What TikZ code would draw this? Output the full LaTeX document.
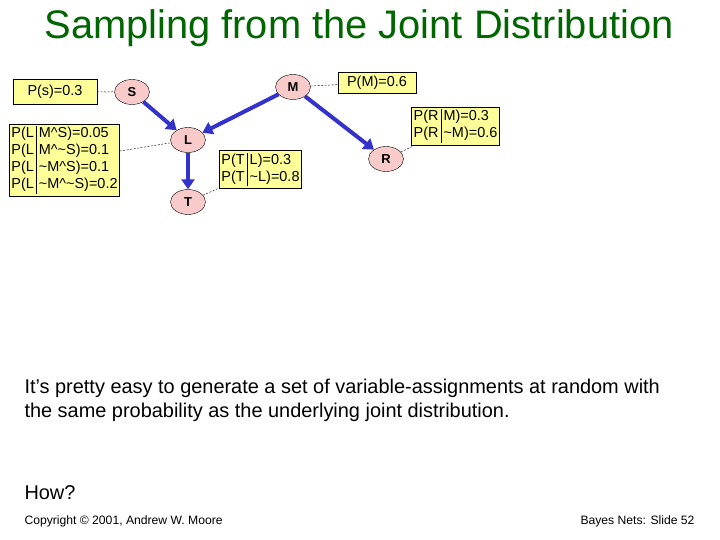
\documentclass[tikz,border=0pt]{standalone}
\usepackage{fontspec}
\setmainfont{Liberation Sans}
\usetikzlibrary{arrows.meta,shapes.geometric}
\definecolor{boxy}{HTML}{FFFF99}
\definecolor{nodep}{HTML}{F8CACA}
\definecolor{arrb}{HTML}{3333CC}
\definecolor{titleg}{HTML}{006600}
\newcommand{\tl}{\textasciitilde}
\begin{document}
\begin{tikzpicture}[x=1bp,y=-1bp,
  var/.style={ellipse,draw=black,fill=nodep,minimum width=35bp,minimum height=25bp,inner sep=0pt,font=\fontsize{13}{14}\selectfont\bfseries},
  cpt/.style={draw=black,fill=boxy,inner sep=2bp,font=\fontsize{14.5}{17}\selectfont,align=left},
  edge/.style={arrb,line width=4bp,-{Triangle[length=10bp,width=13bp]}},
  lnk/.style={black,line width=0.4bp,dash pattern=on 2bp off 1.5bp}]
\useasboundingbox[fill=white] (0,0) rectangle (720,540);
\node[titleg,font=\fontsize{40}{44}\selectfont] (title) at (359,28) {Sampling from the Joint Distribution};
\node[var] (S) at (132,92) {S};
\node[var] (M) at (293,87) {M};
\node[var] (L) at (188,140) {L};
\node[var] (T) at (188,202) {T};
\node[var] (R) at (386,159) {R};
\node[cpt,minimum width=84bp,minimum height=25bp,align=center] (ps) at (55,91.5) {P(s)=0.3};
\node[cpt,minimum width=78bp,minimum height=21bp,align=center] (pm) at (377,82.5) {P(M)=0.6};
\node[cpt] (pr) at (455.5,126) {\begin{tabular}{@{}l@{\,}|@{\,}l@{}}P(R&M)=0.3\\P(R&\tl M)=0.6\end{tabular}};
\node[cpt] (pl) at (64.5,160) {\begin{tabular}{@{}l@{\,}|@{\,}l@{}}P(L&M\^{}S)=0.05\\P(L&M\^{}\tl S)=0.1\\P(L&\tl M\^{}S)=0.1\\P(L&\tl M\^{}\tl S)=0.2\end{tabular}};
\node[cpt] (pt) at (260.5,169.5) {\begin{tabular}{@{}l@{\,}|@{\,}l@{}}P(T&L)=0.3\\P(T&\tl L)=0.8\end{tabular}};
\draw[edge] (S) -- (L);
\draw[edge] (M) -- (L);
\draw[edge] (M) -- (R);
\draw[edge] (L) -- (T);
\draw[lnk] (ps) -- (S);
\draw[lnk] (M) -- (pm);
\draw[lnk] (R) -- (pr);
\draw[lnk] (pl) -- (L);
\draw[lnk] (T) -- (pt);
\node[anchor=west,align=left,font=\fontsize{20}{24}\selectfont] (body) at (21,400) {It’s pretty easy to generate a set of variable-assignments at random with\\the same probability as the underlying joint distribution.};
\node[anchor=west,font=\fontsize{20}{22}\selectfont] (how) at (21,493) {How?};
\node[anchor=west,font=\fontsize{12.2}{14}\selectfont] (copy) at (21,521) {Copyright © 2001, Andrew W. Moore};
\node[anchor=east,font=\fontsize{12.2}{14}\selectfont] (slide) at (698,521) {Bayes Nets: Slide 52};
\end{tikzpicture}
\end{document}
